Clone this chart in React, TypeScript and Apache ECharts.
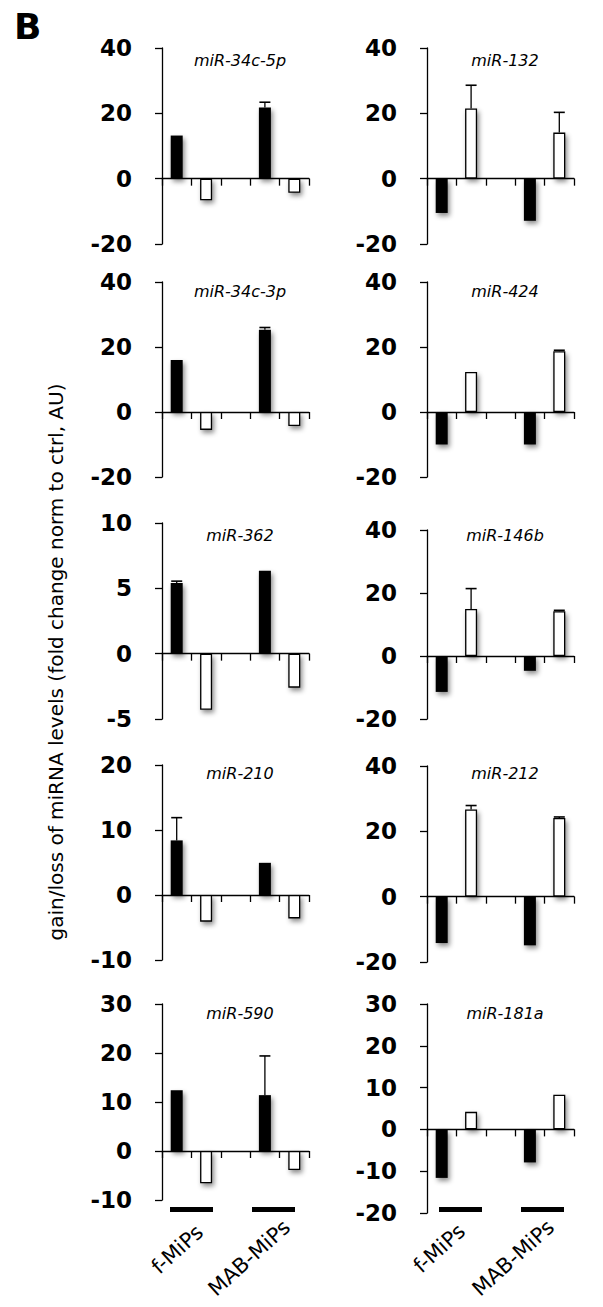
import React, { useEffect, useRef } from "react";
import * as echarts from "echarts";

// panels: left column (top→bottom) then right column (top→bottom)
const miRNAs = ["miR-34c-5p", "miR-34c-3p", "miR-362", "miR-210", "miR-590", "miR-132", "miR-424", "miR-146b", "miR-212", "miR-181a"];
const categories = ["f-MiPs (black)", "f-MiPs (white)", "", "MAB-MiPs (black)", "MAB-MiPs (white)"];
const groupLabels = ["f-MiPs", "MAB-MiPs"];

const fMiPsBlack = [13.2, 16.0, 5.4, 8.4, 12.4, -10.5, -10.0, -11.4, -14.2, -11.6];
const fMiPsWhite = [-6.6, -5.5, -4.3, -4.1, -6.6, 21.5, 12.3, 14.9, 26.7, 4.2];
const mabBlack = [21.8, 25.3, 6.35, 4.95, 11.4, -12.9, -10.0, -4.7, -14.9, -7.9];
const mabWhite = [-4.3, -4.3, -2.6, -3.6, -3.9, 14.1, 18.7, 14.2, 24.1, 8.3];

const fMiPsBlackErr = [0, 0, 0.15, 3.5, 0, 0, 0, 0, 0, 0];
const fMiPsWhiteErr = [0, 0, 0, 0, 0, 7.1, 0, 6.5, 1.2, 0];
const mabBlackErr = [1.6, 0.7, 0, 0, 8.0, 0, 0, 0, 0, 0];
const mabWhiteErr = [0, 0, 0, 0, 0, 6.2, 0.3, 0.3, 0.3, 0];

const yMin = [-20, -20, -5, -10, -10, -20, -20, -20, -20, -20];
const yMax = [40, 40, 10, 20, 30, 40, 40, 40, 40, 30];
const yStep = [20, 20, 5, 10, 10, 20, 20, 20, 20, 10];

const yTitle = "gain/loss of miRNA levels (fold change norm to ctrl, AU)";

// layout
const colLeft = [162, 162, 162, 162, 162, 427, 427, 427, 427, 427];
const gridTop = [48, 282, 523, 765, 1004, 48, 282, 530, 766, 1004];
const gridBottomY = [244, 477, 719, 960, 1200, 244, 477, 719, 962, 1213];
const titleY = [60, 291, 535, 773, 1013, 60, 291, 535, 773, 1013];
const PANEL_W = 147;

const FONT = "DejaVu Sans";
const AX = { color: "#000", width: 1.3 };

export default function App() {
  const ref = useRef<HTMLDivElement>(null);
  useEffect(() => {
    if (!ref.current) return;
    const chart = echarts.init(ref.current, null, { renderer: "svg" });
    const n = miRNAs.length;
    const grids = miRNAs.map((_, i) => ({
      left: colLeft[i],
      top: gridTop[i],
      width: PANEL_W,
      height: gridBottomY[i] - gridTop[i],
    }));
    const xAxis = miRNAs.map((_, i) => ({
      type: "category",
      gridIndex: i,
      data: categories,
      boundaryGap: true,
      axisLine: { show: true, onZero: true, lineStyle: AX },
      axisTick: { show: true, interval: 0, inside: false, length: 7, lineStyle: AX },
      axisLabel: { show: true, interval: 0, color: "rgba(0,0,0,0)", fontSize: 1, formatter: () => "" },
      splitLine: { show: false },
    }));
    const yAxis = miRNAs.map((_, i) => ({
      type: "value",
      gridIndex: i,
      min: yMin[i],
      max: yMax[i],
      interval: yStep[i],
      axisLine: { show: true, lineStyle: AX },
      axisTick: { show: true, length: 7, lineStyle: AX },
      axisLabel: { margin: 30, color: "#000", fontFamily: FONT, fontWeight: "bold", fontSize: 23 },
      splitLine: { show: false },
    }));
    const shadow = { shadowBlur: 5, shadowOffsetX: 2, shadowOffsetY: 3, shadowColor: "rgba(0,0,0,0.45)" };
    const black = { color: "#000", ...shadow };
    const white = { color: "#fff", borderColor: "#000", borderWidth: 1.3, ...shadow };
    const series: any[] = [];
    for (let i = 0; i < n; i++) {
      series.push({
        type: "bar",
        xAxisIndex: i,
        yAxisIndex: i,
        barWidth: 12,
        data: [
          { value: fMiPsBlack[i], itemStyle: black },
          { value: fMiPsWhite[i], itemStyle: white },
          "-",
          { value: mabBlack[i], itemStyle: black },
          { value: mabWhite[i], itemStyle: white },
        ],
      });
      const errs: number[][] = [];
      const vals = [fMiPsBlack[i], fMiPsWhite[i], null, mabBlack[i], mabWhite[i]];
      const es = [fMiPsBlackErr[i], fMiPsWhiteErr[i], 0, mabBlackErr[i], mabWhiteErr[i]];
      for (let k = 0; k < 5; k++) {
        if (vals[k] !== null && es[k] > 0) errs.push([k, vals[k] as number, es[k]]);
      }
      series.push({
        type: "custom",
        xAxisIndex: i,
        yAxisIndex: i,
        z: 5,
        data: errs,
        renderItem: (params: any, api: any) => {
          const x = api.value(0);
          const v = api.value(1);
          const e = api.value(2);
          const p0 = api.coord([x, v]);
          const p1 = api.coord([x, v + e]);
          return {
            type: "group",
            children: [
              { type: "line", shape: { x1: p0[0], y1: p0[1], x2: p1[0], y2: p1[1] }, style: { stroke: "#000", lineWidth: 1.3 } },
              { type: "line", shape: { x1: p1[0] - 5.5, y1: p1[1], x2: p1[0] + 5.5, y2: p1[1] }, style: { stroke: "#000", lineWidth: 1.6 } },
            ],
          };
        },
      });
    }
    const titles = miRNAs.map((name, i) => ({
      text: name,
      left: i < 5 ? 240 : 505,
      top: titleY[i],
      textAlign: "center",
      textVerticalAlign: "middle",
      padding: 0,
      textStyle: { fontFamily: FONT, fontStyle: "italic", fontWeight: "normal", fontSize: 16, color: "#000" },
    }));
    const rad = (d: number) => (d * Math.PI) / 180;
    const graphic: any[] = [
      { type: "text", left: 14, top: 8, style: { text: "B", fontFamily: FONT, fontWeight: "bold", fontSize: 36, fill: "#000" } },
      {
        type: "text",
        x: 56,
        y: 662,
        rotation: rad(90),
        style: { text: yTitle, fontFamily: FONT, fontSize: 20, fill: "#000", align: "center", verticalAlign: "middle" },
      },
      { type: "rect", shape: { x: 170, y: 1207, width: 43, height: 5 }, style: { fill: "#000" } },
      { type: "rect", shape: { x: 252, y: 1207, width: 43, height: 5 }, style: { fill: "#000" } },
      { type: "rect", shape: { x: 439, y: 1207, width: 43, height: 5 }, style: { fill: "#000" } },
      { type: "rect", shape: { x: 521, y: 1207, width: 43, height: 5 }, style: { fill: "#000" } },
    ];
    const labelPos = [
      [200, 1229, 0],
      [287, 1224, 1],
      [462, 1228, 0],
      [551, 1224, 1],
    ];
    labelPos.forEach(([x, y, g]) => {
      graphic.push({
        type: "text",
        x,
        y,
        rotation: rad(42),
        style: { text: groupLabels[g], fontFamily: FONT, fontSize: 21, fill: "#000", align: "right", verticalAlign: "middle" },
      });
    });
    chart.setOption({
      animation: false,
      backgroundColor: "#fff",
      title: titles,
      grid: grids,
      xAxis,
      yAxis,
      series,
      graphic,
    });
    return () => chart.dispose();
  }, []);
  return <div ref={ref} style={{ position: "absolute", left: 0, top: 0, width: 603, height: 1307 }} />;
}
